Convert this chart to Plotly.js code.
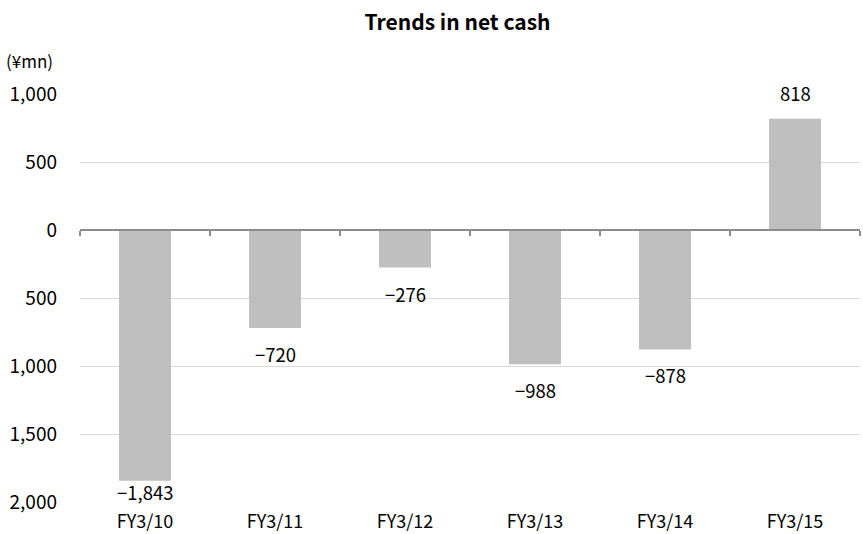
<!DOCTYPE html>
<html>
<head>
<meta charset="utf-8">
<script src="https://cdn.plot.ly/plotly-3.0.1.min.js"></script>
<style>html,body{margin:0;padding:0;background:#fff;}#chart{width:863px;height:534px;}</style>
</head>
<body>
<div id="chart"></div>
<script>
var categories = ["FY3/10", "FY3/11", "FY3/12", "FY3/13", "FY3/14", "FY3/15"];
var netCash = [-1843, -720, -276, -988, -878, 818];
var yTickVals = [-2000, -1500, -1000, -500, 0, 500, 1000];
var yTickText = ["2,000", "1,500", "1,000", "500", "0", "500", "1,000"];
var boundaryTicks = [-0.5, 0.5, 1.5, 2.5, 3.5, 4.5, 5.5];

function fmt(v) {
  var s = Math.abs(v).toLocaleString("en-US");
  return (v < 0 ? "\u2212" : "") + s;
}
var labels = netCash.map(fmt);

var FONT = "'Noto Sans CJK JP', 'DejaVu Sans', sans-serif";
var W = 863, H = 534;
var M = {l: 80, r: 3, t: 94, b: 32};
var Y_MIN = -2000, Y_MAX = 1000;
var plotH = H - M.t - M.b;
var pxPerUnit = plotH / (Y_MAX - Y_MIN);
var LABEL_GAP = 26, HALF_TEXT = 10;

var labelAnns = netCash.map(function (v, i) {
  var shift;
  if (v < 0) {
    var avail = (v - Y_MIN) * pxPerUnit - HALF_TEXT;
    shift = -Math.min(LABEL_GAP, avail);
  } else {
    shift = LABEL_GAP;
  }
  return {
    x: categories[i], y: v, xref: "x", yref: "y",
    text: labels[i], showarrow: false,
    xanchor: "center", yanchor: "middle", yshift: shift,
    borderpad: 0,
    font: {family: FONT, size: 18.5, color: "#000"}
  };
});

var data = [
  {
    type: "bar",
    x: categories,
    y: netCash,
    width: 0.4,
    marker: {color: "#bfbfbf"},
    hoverinfo: "none"
  },
  {
    type: "scatter",
    x: [0, 5],
    y: [0, 0],
    xaxis: "x2",
    yaxis: "y",
    mode: "lines",
    line: {width: 0, color: "rgba(0,0,0,0)"},
    hoverinfo: "none",
    showlegend: false
  }
];

var layout = {
  width: W,
  height: H,
  margin: M,
  paper_bgcolor: "#fff",
  plot_bgcolor: "#fff",
  showlegend: false,
  font: {family: FONT, size: 19, color: "#000"},
  title: {
    text: "<b>Trends in net cash</b>",
    font: {family: FONT, size: 21, color: "#000"},
    xref: "paper", x: 0.484, xanchor: "center", y: 0.958, yanchor: "middle"
  },
  xaxis: {
    type: "category",
    range: [-0.5, 5.5],
    showgrid: false,
    zeroline: false,
    showline: false,
    ticks: "",
    ticklabelstandoff: 7,
    tickfont: {family: FONT, size: 18, color: "#000"}
  },
  xaxis2: {
    overlaying: "x",
    anchor: "free",
    position: (0 - Y_MIN) / (Y_MAX - Y_MIN),
    range: [-0.5, 5.5],
    tickmode: "array",
    tickvals: boundaryTicks,
    showticklabels: false,
    ticks: "outside",
    ticklen: 5,
    tickwidth: 2,
    tickcolor: "#8c8c8c",
    showline: true,
    linecolor: "#8c8c8c",
    linewidth: 2,
    showgrid: false,
    zeroline: false,
    fixedrange: true
  },
  yaxis: {
    range: [Y_MIN, Y_MAX],
    tickmode: "array",
    tickvals: yTickVals,
    ticktext: yTickText,
    showgrid: true,
    gridcolor: "#d9d9d9",
    gridwidth: 1,
    zeroline: false,
    showline: false,
    ticks: "",
    ticklabelstandoff: 22,
    tickfont: {family: FONT, size: 19, color: "#000"}
  },
  annotations: [
    {
      text: "(¥mn)",
      xref: "paper", yref: "paper",
      x: -0.097, y: 1.082,
      xanchor: "left", yanchor: "middle",
      showarrow: false,
      font: {family: FONT, size: 17, color: "#000"}
    }
  ].concat(labelAnns)
};

Plotly.newPlot("chart", data, layout, {displayModeBar: false, staticPlot: true});
</script>
</body>
</html>
